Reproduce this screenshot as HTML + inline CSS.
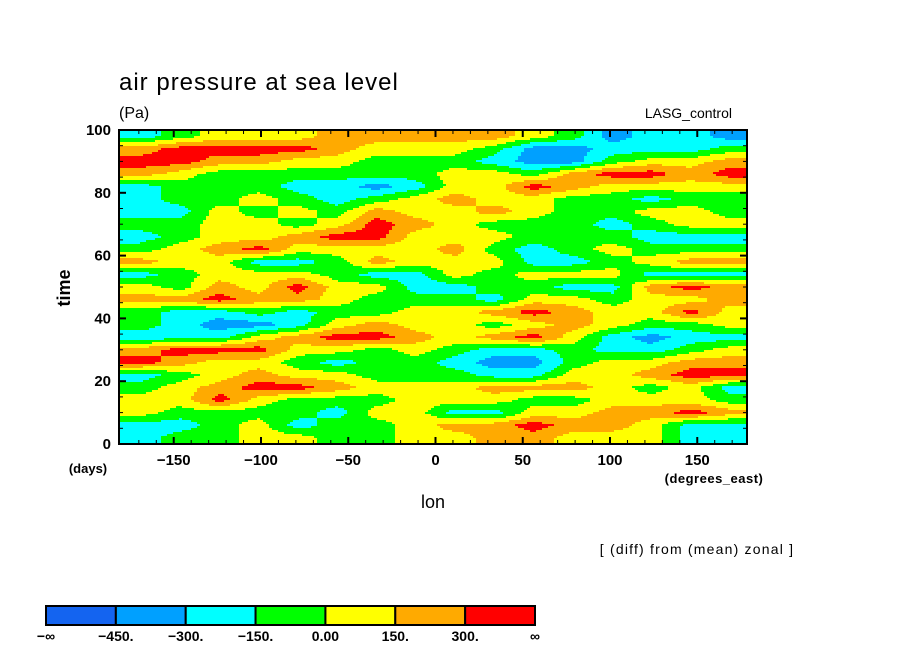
<!DOCTYPE html>
<html><head><meta charset="utf-8"><style>
body{margin:0;background:#fff;}
svg{display:block;font-family:"Liberation Sans",sans-serif;}
</style></head><body>
<svg id="chart" width="904" height="654" viewBox="0 0 904 654">
<text x="119" y="90" font-size="24" letter-spacing="1" fill="#000">air pressure at sea level</text>
<text x="119" y="118" font-size="16" fill="#000">(Pa)</text>
<text x="732" y="118" font-size="14" text-anchor="end" fill="#000">LASG_control</text>
<g id="cells"></g>
<g id="axes"></g>
<text x="70" y="288" font-size="18" font-weight="bold" transform="rotate(-90 70 288)" text-anchor="middle">time</text>
<text x="88" y="473" font-size="13" font-weight="bold" text-anchor="middle">(days)</text>
<text x="433" y="508" font-size="18" text-anchor="middle">lon</text>
<text x="714" y="483" font-size="13" font-weight="bold" letter-spacing="0.5" text-anchor="middle">(degrees_east)</text>
<text x="697" y="554" font-size="14" letter-spacing="1.2" text-anchor="middle">[ (diff) from (mean) zonal ]</text>
<g id="cbar"></g>
</svg>
<script>
// data: field values (Pa), rows from day 100 (top) to day 0, 16 lon bins
const lonEdges = [-180,-157.5,-135,-112.5,-90,-67.5,-45,-22.5,0,22.5,45,67.5,90,112.5,135,157.5,180];
const dayEdges = [100,96,92,88,84,80,76,72,68,64,60,56,52,48,44,40,36,32,28,24,20,16,12,8,4,0];
const codeVal = {B:-500,b:-375,c:-225,g:-75,y:75,o:225,r:375};
const rowCodes = [
 "cgyyyooo"+"ooygbccb",
 "orrrroyy"+"ygbbcccg",
 "rrooyygg"+"gcbbgyyo",
 "oygggggg"+"yygorror",
 "cgggccbc"+"yyroyyyy",
 "cggygcgy"+"oyyggcgg",
 "ccygygoy"+"yoyggyyg",
 "ggyygyro"+"ygggcgyy",
 "cgyyorry"+"yygggccc",
 "gyoryyyy"+"ogcgyggg",
 "oyyccgoy"+"yyccgyoo",
 "cgyyygcc"+"ygyyyccc",
 "ygoyryyc"+"cggccoro",
 "oorooygg"+"gcyygyyo",
 "gccgcggy"+"yoroyyry",
 "gcbbcyoy"+"ygyoyggy",
 "cccyorro"+"yorycbcc",
 "orrryygy"+"gccgccgy",
 "royygcgg"+"cbbgyyoo",
 "cgyoyygg"+"gccyyorr",
 "gyorroyy"+"yoooygyc",
 "yyrygggy"+"yyggyyyg",
 "yggggcyy"+"ccyyooro",
 "ccgycggy"+"oorooycc",
 "cggyyggy"+"yooyyycc"
];
const values = rowCodes.map(r => r.split("").slice(0,16).map(ch => codeVal[ch]));
const levels = [-450,-300,-150,0,150,300];
const colors = ["#1464f0","#00a0ff","#00ffff","#00ff00","#ffff00","#ffaa00","#ff0000"];
const cbarLabels = ["\u2212\u221e","\u2212450.","\u2212300.","\u2212150.","0.00","150.","300.","\u221e"];
const xTicks = [-150,-100,-50,0,50,100,150];
const yTicks = [0,20,40,60,80,100];

const NS="http://www.w3.org/2000/svg";
const PL=119, PR=747, PT=130, PB=444;
const xs = v => 435.5 + v*(PR-435.5)/178.5;
const ys = d => PB - (d/100)*(PB-PT);
const cls = v => { let i=0; while(i<levels.length && v>=levels[i]) i++; return i; };
function mk(tag, attrs, parent){ const e=document.createElementNS(NS,tag); for(const k in attrs) e.setAttribute(k,attrs[k]); parent.appendChild(e); return e; }

const nR=values.length, nC=values[0].length;
function sample(lon, day){
  const cf=(lon-lonEdges[0])/(lonEdges[nC]-lonEdges[0])*nC-0.5;
  const rf=(dayEdges[0]-day)/(dayEdges[0]-dayEdges[nR])*nR-0.5;
  const c0=Math.max(0,Math.min(nC-1,Math.floor(cf))), c1=Math.min(nC-1,c0+1);
  const r0=Math.max(0,Math.min(nR-1,Math.floor(rf))), r1=Math.min(nR-1,r0+1);
  const tx=Math.max(0,Math.min(1,cf-c0)), ty=Math.max(0,Math.min(1,rf-r0));
  const a=values[r0][c0]*(1-tx)+values[r0][c1]*tx;
  const b=values[r1][c0]*(1-tx)+values[r1][c1]*tx;
  return a*(1-ty)+b*ty;
}
const cells=document.getElementById('cells');
const SH=2, SW=3;
function addRun(x0,x1,y,k){
  const r=mk('rect',{x:x0,y:y,width:x1-x0+0.4,height:SH+0.4,fill:colors[k]},cells);
  
  
}
for(let y=PT; y<PB; y+=SH){
  const day=100*(PB-(y+SH/2))/(PB-PT);
  let runStart=PL, runCls=-1;
  for(let x=PL; x<PR; x+=SW){
    const lon=(x+SW/2-435.5)*178.5/(PR-435.5);
    const k=cls(sample(lon,day));
    if(k!==runCls){
      if(runCls>=0) addRun(runStart,x,y,runCls);
      runStart=x; runCls=k;
    }
  }
  if(runCls>=0) addRun(runStart,PR,y,runCls);
}

const ax=document.getElementById('axes');
const frame=mk('rect',{x:PL,y:PT,width:PR-PL,height:PB-PT,fill:'none',stroke:'#000','stroke-width':2},ax);


for(let l=-170;l<=170;l+=10){
  const x=xs(l), major=(l%50===0), len=major?7:4;
  mk('line',{x1:x,x2:x,y1:PB,y2:PB-len,stroke:'#000','stroke-width':major?2:1},ax);
  mk('line',{x1:x,x2:x,y1:PT,y2:PT+len,stroke:'#000','stroke-width':major?2:1},ax);
}
for(let d=5;d<100;d+=5){
  const y=ys(d), major=(d%20===0), len=major?7:4;
  mk('line',{x1:PL,x2:PL+len,y1:y,y2:y,stroke:'#000','stroke-width':major?2:1},ax);
  mk('line',{x1:PR,x2:PR-len,y1:y,y2:y,stroke:'#000','stroke-width':major?2:1},ax);
}
xTicks.forEach(t=>{
  const e=mk('text',{x:xs(t),y:465,'font-size':15,'font-weight':'bold','text-anchor':'middle'},ax);
  e.textContent=(t<0?'\u2212'+(-t):String(t));
  
  
});
yTicks.forEach(t=>{
  const e=mk('text',{x:111,y:ys(t)+5,'font-size':15,'font-weight':'bold','text-anchor':'end'},ax);
  e.textContent=String(t);
  
  
});

const cb=document.getElementById('cbar');
const CX0=46, CX1=535, bw=(CX1-CX0)/colors.length;
colors.forEach((c,i)=>{
  const r=mk('rect',{x:CX0+i*bw,y:606,width:bw,height:19,fill:c,stroke:'#000','stroke-width':2},cb);
  
  
});
cbarLabels.forEach((s,i)=>{
  const e=mk('text',{x:CX0+i*bw,y:641,'font-size':14,'font-weight':'bold','text-anchor':'middle'},cb);
  e.textContent=s;
  
  
});
</script>
</body></html>
